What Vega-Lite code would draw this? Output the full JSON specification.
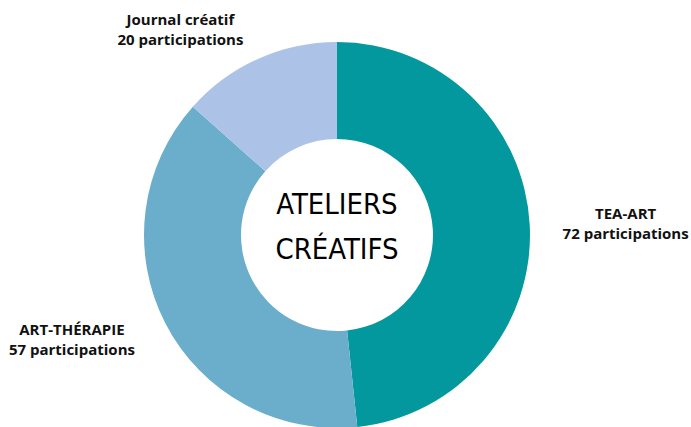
{
  "$schema": "https://vega.github.io/schema/vega-lite/v6.json",
  "autosize": "none",
  "width": 674,
  "height": 384,
  "padding": {"left": 0, "top": 43, "right": 17, "bottom": 0},
  "background": "white",
  "config": {"view": {"stroke": null}},
  "data": {
    "values": [
      {"atelier": "TEA-ART", "participations": 72},
      {"atelier": "ART-THÉRAPIE", "participations": 57},
      {"atelier": "Journal créatif", "participations": 20}
    ]
  },
  "layer": [
    {
      "mark": {"type": "arc", "outerRadius": 193, "innerRadius": 96},
      "encoding": {
        "theta": {"field": "participations", "type": "quantitative", "stack": true},
        "order": {"field": "participations", "sort": "descending"},
        "color": {
          "field": "atelier",
          "type": "nominal",
          "scale": {
            "domain": ["TEA-ART", "ART-THÉRAPIE", "Journal créatif"],
            "range": ["#03989E", "#6BAECC", "#ADC2E7"]
          },
          "legend": null
        }
      }
    },
    {
      "transform": [
        {"calculate": "datum.atelier + '\\n' + datum.participations + ' participations'", "as": "label"}
      ],
      "mark": {
        "type": "text",
        "radius": 280,
        "font": "Open Sans",
        "fontWeight": "bold",
        "fontSize": 15,
        "lineHeight": 20,
        "lineBreak": "\n",
        "align": "center",
        "baseline": "middle",
        "color": "#111111",
        "dx": {"expr": "datum.atelier == 'TEA-ART' ? 9 : datum.atelier == 'ART-THÉRAPIE' ? -16 : -42"},
        "dy": {"expr": "datum.atelier == 'TEA-ART' ? -6 : datum.atelier == 'ART-THÉRAPIE' ? -33 : 40"}
      },
      "encoding": {
        "theta": {"field": "participations", "type": "quantitative", "stack": true},
        "order": {"field": "participations", "sort": "descending"},
        "text": {"field": "label", "type": "nominal"}
      }
    },
    {
      "data": {"values": [{"titre": "ATELIERS CRÉATIFS"}]},
      "mark": {
        "type": "text",
        "font": "DejaVu Sans Condensed, sans-serif",
        "fontSize": 29,
        "lineHeight": 45,
        "lineBreak": " ",
        "align": "center",
        "baseline": "middle",
        "dy": -30,
        "color": "#000000"
      },
      "encoding": {
        "text": {"field": "titre", "type": "nominal"}
      }
    }
  ]
}
